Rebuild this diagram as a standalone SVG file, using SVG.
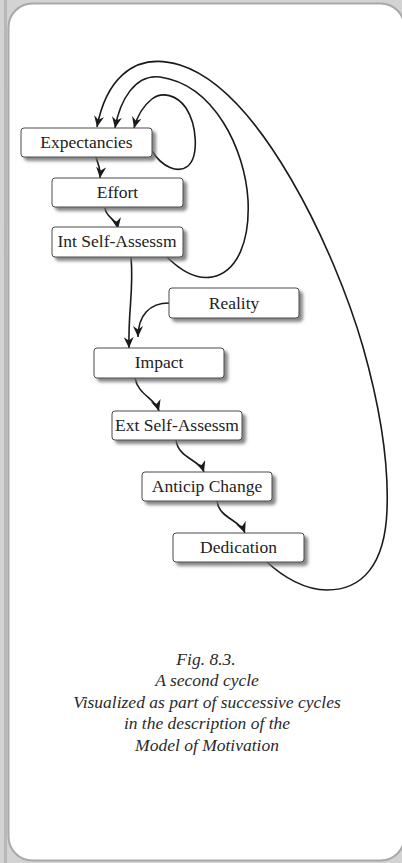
<svg xmlns="http://www.w3.org/2000/svg" width="402" height="863" viewBox="0 0 402 863">
  <defs>
    <filter id="shadow" x="-10%" y="-20%" width="130%" height="160%">
      <feDropShadow dx="3.5" dy="3.5" stdDeviation="1.6" flood-color="#6b6b6b" flood-opacity="0.8"/>
    </filter>
    <marker id="head" markerUnits="userSpaceOnUse" markerWidth="14" markerHeight="12" refX="11" refY="5" orient="auto">
      <path d="M0,0 L11,5 L0,10 L3.5,5 z" fill="#1a1a1a"/>
    </marker>
  </defs>

  <!-- page frame -->
  <rect x="0" y="0" width="402" height="863" fill="#d3d3d3"/>
  <rect x="4" y="0" width="3" height="863" fill="#b8b8b8"/>
  <rect x="8.5" y="3.5" width="396" height="857" rx="24" fill="#ffffff" stroke="#a9a9a9" stroke-width="2"/>

  <!-- connectors: shared stroke and arrowhead set on the group -->
  <g id="connectors" fill="none" stroke="#1a1a1a" stroke-width="1.6" marker-end="url(#head)">
    <path d="M96,157 C98,165 101,168 100,178"/>
    <path d="M105,208 C106,218 116,218 118,229"/>
    <path d="M131,257 C134,290 128,310 129,348"/>
    <path d="M169,303 C150,303 138,315 138,337"/>
    <path d="M135,378 C138,395 155,398 159,411"/>
    <path d="M176,440 C178,458 200,460 204,472"/>
    <path d="M217,501 C219,518 240,520 245,533"/>
    <!-- feedback loops back to Expectancies -->
    <path d="M152,151 C162,167 178,174 188,166 C199,156 197,125 186,108 C177,95 162,91 152,99 C143,106 137,117 134,128"/>
    <path d="M167,257 C180,270 195,280 212,277 C238,272 250,240 248,200 C245,150 215,85 160,77 C135,74 120,100 115,128"/>
    <path d="M267,562 C283,577 305,590 327,590 C362,590 385,565 387,510 C389,460 378,400 363,347 C335,250 260,90 180,65 C130,50 105,85 97,127"/>
  </g>

  <!-- nodes -->
  <g id="nodes" fill="#222" text-anchor="middle">
    <g id="expectancies">
      <rect x="21" y="128" width="131" height="29" rx="3" fill="#fff" stroke="#4a4a4a" filter="url(#shadow)"/>
      <text x="86.5" y="148" font-family="Liberation Serif" font-size="17.5">Expectancies</text>
    </g>
    <g id="effort">
      <rect x="52" y="178" width="131" height="29" rx="3" fill="#fff" stroke="#4a4a4a" filter="url(#shadow)"/>
      <text x="117.5" y="198" font-family="Liberation Serif" font-size="17.5">Effort</text>
    </g>
    <g id="int-self-assessm">
      <rect x="52" y="227" width="131" height="30" rx="3" fill="#fff" stroke="#4a4a4a" filter="url(#shadow)"/>
      <text x="117" y="247" font-family="Liberation Serif" font-size="17.5">Int Self-Assessm</text>
    </g>
    <g id="reality">
      <rect x="169" y="288" width="130" height="30" rx="3" fill="#fff" stroke="#4a4a4a" filter="url(#shadow)"/>
      <text x="234" y="309" font-family="Liberation Serif" font-size="17.5">Reality</text>
    </g>
    <g id="impact">
      <rect x="94" y="348" width="130" height="30" rx="3" fill="#fff" stroke="#4a4a4a" filter="url(#shadow)"/>
      <text x="159" y="368" font-family="Liberation Serif" font-size="17.5">Impact</text>
    </g>
    <g id="ext-self-assessm">
      <rect x="112" y="411" width="130" height="29" rx="3" fill="#fff" stroke="#4a4a4a" filter="url(#shadow)"/>
      <text x="177" y="431" font-family="Liberation Serif" font-size="17.5">Ext Self-Assessm</text>
    </g>
    <g id="anticip-change">
      <rect x="142" y="472" width="130" height="29" rx="3" fill="#fff" stroke="#4a4a4a" filter="url(#shadow)"/>
      <text x="207" y="492" font-family="Liberation Serif" font-size="17.5">Anticip Change</text>
    </g>
    <g id="dedication">
      <rect x="173" y="533" width="131" height="29" rx="3" fill="#fff" stroke="#4a4a4a" filter="url(#shadow)"/>
      <text x="238.5" y="553" font-family="Liberation Serif" font-size="17.5">Dedication</text>
    </g>
  </g>

  <!-- caption -->
  <g id="caption" fill="#2a2a2a" text-anchor="middle">
    <text x="206" y="665" font-family="Liberation Serif" font-size="17.5" font-style="italic">Fig. 8.3.</text>
    <text x="207" y="686" font-family="Liberation Serif" font-size="17.5" font-style="italic">A second cycle</text>
    <text x="207" y="708" font-family="Liberation Serif" font-size="17.5" font-style="italic">Visualized as part of successive cycles</text>
    <text x="207" y="729" font-family="Liberation Serif" font-size="17.5" font-style="italic">in the description of the</text>
    <text x="207" y="751" font-family="Liberation Serif" font-size="17.5" font-style="italic">Model of Motivation</text>
  </g>
</svg>
